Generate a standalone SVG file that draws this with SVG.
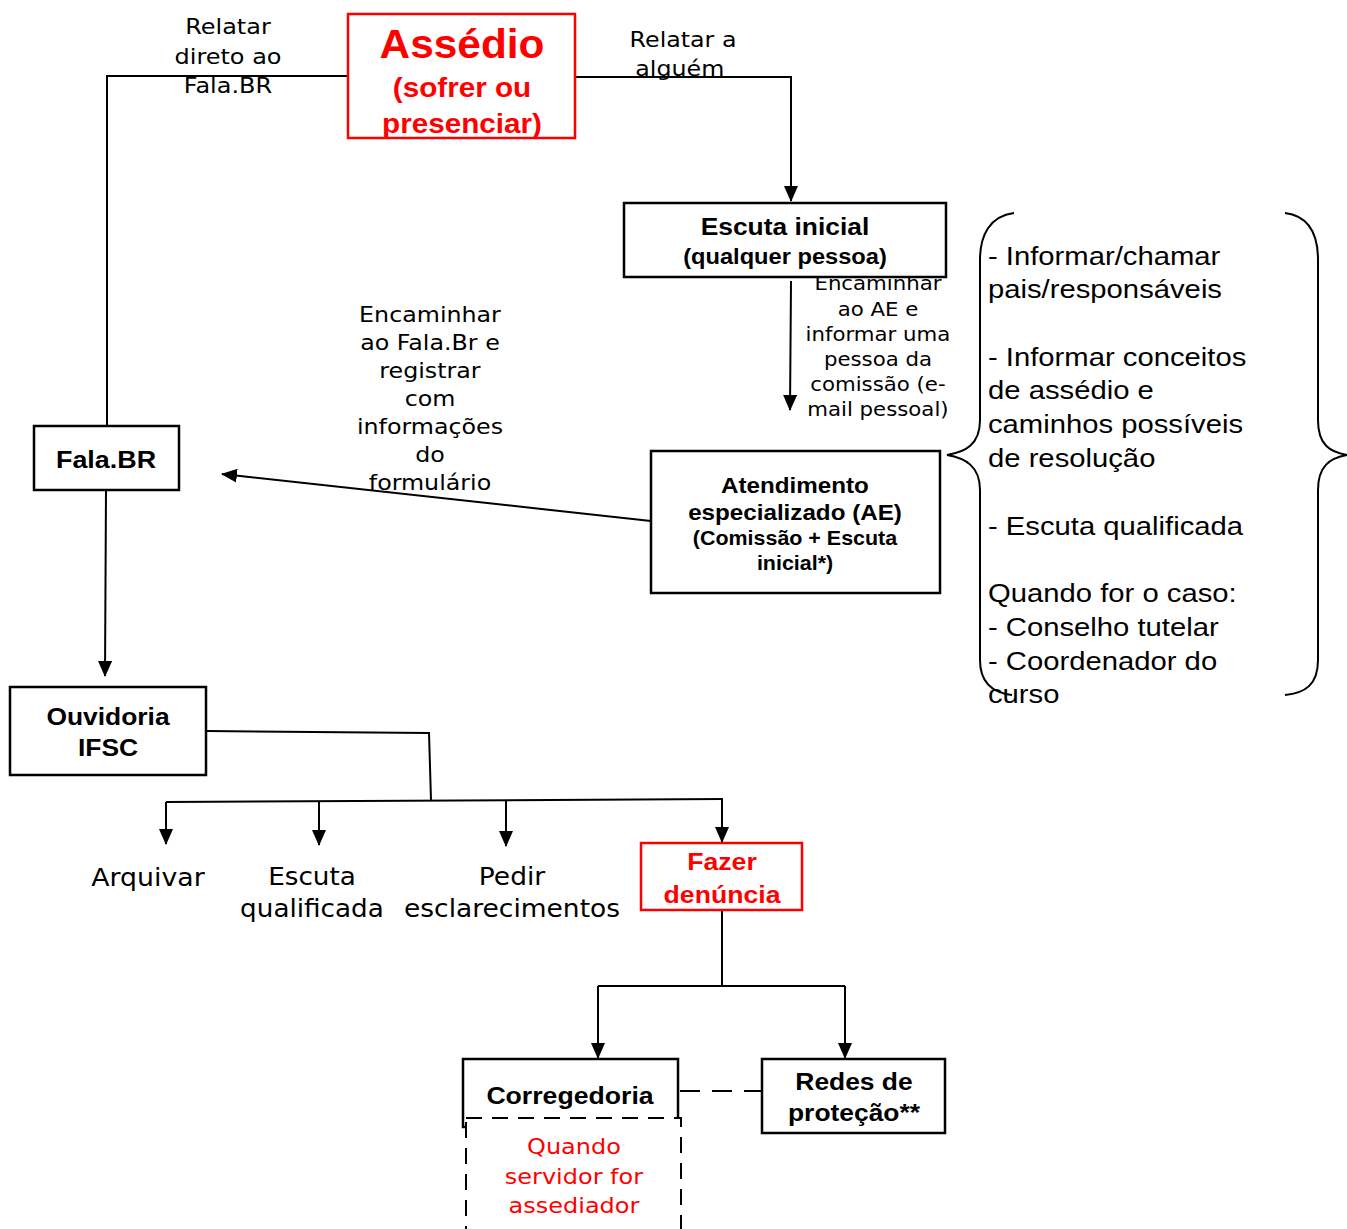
<svg xmlns="http://www.w3.org/2000/svg" width="1347" height="1229" viewBox="0 0 1347 1229">
<defs>
<marker id="ah" markerWidth="16" markerHeight="14" refX="15" refY="7" orient="auto" markerUnits="userSpaceOnUse" viewBox="0 0 16 14"><path d="M0,0 L16,7 L0,14 z" fill="#000"/></marker>
<style>
.box{fill:#fff;stroke:#000;stroke-width:2.5}
.rbox{fill:#fff;stroke:#f00;stroke-width:2.5}
.b{font-family:"Liberation Sans",Arial,sans-serif;font-weight:bold;text-anchor:middle;fill:#000}
.rb{font-family:"Liberation Sans",Arial,sans-serif;font-weight:bold;text-anchor:middle;fill:#f00}
.lbl{font-family:"DejaVu Sans",sans-serif;text-anchor:middle;fill:#000}
.br{font-family:"Liberation Sans",Arial,sans-serif;font-size:26px;fill:#000}
.ln{fill:none;stroke:#000;stroke-width:2}
.arr{fill:none;stroke:#000;stroke-width:2;marker-end:url(#ah)}
</style>
</defs>
<rect width="1347" height="1229" fill="#fff"/>
<g id="connectors">
<polyline class="ln" points="348,76 107,76 107,426"/>
<polyline class="arr" points="575,77 791,77 791,201"/>
<line class="arr" x1="791" y1="281" x2="790" y2="410"/>
<line class="arr" x1="651" y1="521" x2="222" y2="474"/>
<line class="arr" x1="106" y1="490" x2="105" y2="676"/>
<polyline class="ln" points="206,731 429,733 431,800"/>
<line class="ln" x1="166" y1="802" x2="723" y2="799"/>
<line class="arr" x1="166" y1="802" x2="166" y2="844"/>
<line class="arr" x1="319" y1="802" x2="319" y2="845"/>
<line class="arr" x1="506" y1="801" x2="506" y2="846"/>
<line class="arr" x1="722" y1="800" x2="722" y2="842"/>
<line class="ln" x1="722" y1="910" x2="722" y2="986"/>
<line class="ln" x1="598" y1="986" x2="845" y2="986"/>
<line class="arr" x1="598" y1="986" x2="598" y2="1058"/>
<line class="arr" x1="845" y1="986" x2="845" y2="1058"/>
<line class="ln" x1="680" y1="1091" x2="762" y2="1091" stroke-dasharray="20,12"/>
</g>
<g id="labels">
<text class="lbl" font-size="22" transform="matrix(1.09,0,0,1,-20.5,0)"><tspan x="228" y="34">Relatar</tspan><tspan x="228" y="64">direto ao</tspan><tspan x="228" y="93">Fala.BR</tspan></text>
<text class="lbl" font-size="22" transform="matrix(1.08,0,0,1,-54.6,0)"><tspan x="683" y="47">Relatar a</tspan><tspan x="680" y="76">alguém</tspan></text>
<text class="lbl" font-size="19" transform="matrix(1.12,0,0,1,-105.4,0)"><tspan x="878" y="290">Encaminhar</tspan><tspan x="878" y="316">ao AE e</tspan><tspan x="878" y="341">informar uma</tspan><tspan x="878" y="366">pessoa da</tspan><tspan x="878" y="391">comissão (e-</tspan><tspan x="878" y="416">mail pessoal)</tspan></text>
<text class="lbl" font-size="22" transform="matrix(1.08,0,0,1,-34.4,0)"><tspan x="430" y="322">Encaminhar</tspan><tspan x="430" y="350">ao Fala.Br e</tspan><tspan x="430" y="378">registrar</tspan><tspan x="430" y="406">com</tspan><tspan x="430" y="434">informações</tspan><tspan x="430" y="462">do</tspan><tspan x="430" y="490">formulário</tspan></text>
</g>
<g id="assedio">
<rect class="rbox" x="348" y="14" width="227" height="124"/>
<g transform="matrix(1.06,0,0,1,-27.7,0)">
<text class="rb" font-size="40" x="462" y="58">Assédio</text>
<text class="rb" font-size="28"><tspan x="462" y="97">(sofrer ou</tspan><tspan x="462" y="133">presenciar)</tspan></text>
</g>
</g>
<g id="escuta-inicial">
<rect class="box" x="624" y="203" width="322" height="74"/>
<g transform="matrix(1.1,0,0,1,-78.5,0)">
<text class="b" font-size="24" x="785" y="235">Escuta inicial</text>
<text class="b" font-size="21.5" x="785" y="264">(qualquer pessoa)</text>
</g>
</g>
<g id="atendimento">
<rect class="box" x="651" y="451" width="289" height="142" stroke-width="2"/>
<g transform="matrix(1.1,0,0,1,-79.5,0)">
<text class="b" font-size="22"><tspan x="795" y="493">Atendimento</tspan><tspan x="795" y="520">especializado (AE)</tspan></text>
<text class="b" font-size="19.5"><tspan x="795" y="545">(Comissão + Escuta</tspan><tspan x="795" y="570">inicial*)</tspan></text>
</g>
</g>
<g id="fala-br">
<rect class="box" x="34" y="426" width="145" height="64"/>
<text class="b" font-size="24" x="106" y="468" transform="matrix(1.12,0,0,1,-12.7,0)">Fala.BR</text>
</g>
<g id="ouvidoria">
<rect class="box" x="10" y="687" width="196" height="88"/>
<text class="b" font-size="24" transform="matrix(1.1,0,0,1,-10.8,0)"><tspan x="108" y="725">Ouvidoria</tspan><tspan x="108" y="756">IFSC</tspan></text>
</g>
<g id="arquivar"><text class="lbl" font-size="25" x="148" y="886" transform="matrix(1.07,0,0,1,-10.4,0)">Arquivar</text></g>
<g id="escuta-qualificada"><text class="lbl" font-size="25" transform="matrix(1.05,0,0,1,-15.6,0)"><tspan x="312" y="885">Escuta</tspan><tspan x="312" y="917">qualificada</tspan></text></g>
<g id="pedir"><text class="lbl" font-size="25" transform="matrix(1.06,0,0,1,-30.7,0)"><tspan x="512" y="885">Pedir</tspan><tspan x="512" y="917">esclarecimentos</tspan></text></g>
<g id="fazer-denuncia">
<rect class="rbox" x="641" y="843" width="161" height="67"/>
<text class="rb" font-size="24" transform="matrix(1.11,0,0,1,-79.4,0)"><tspan x="722" y="870">Fazer</tspan><tspan x="722" y="903">denúncia</tspan></text>
</g>
<g id="corregedoria">
<rect class="box" x="463" y="1059" width="215" height="68"/>
<text class="b" font-size="24" x="570" y="1104" transform="matrix(1.11,0,0,1,-62.7,0)">Corregedoria</text>
</g>
<g id="quando">
<rect x="466" y="1118" width="215" height="120" fill="#fff" stroke="#000" stroke-width="2" stroke-dasharray="16,10"/>
<text class="lbl" font-size="22" style="fill:#f00" transform="matrix(1.09,0,0,1,-51.7,0)"><tspan x="574" y="1154">Quando</tspan><tspan x="574" y="1184">servidor for</tspan><tspan x="574" y="1213">assediador</tspan></text>
</g>
<g id="redes">
<rect class="box" x="762" y="1059" width="183" height="74"/>
<text class="b" font-size="24" transform="matrix(1.1,0,0,1,-85.4,0)"><tspan x="854" y="1090">Redes de</tspan><tspan x="854" y="1121">proteção**</tspan></text>
</g>
<g id="acoes">
<path class="ln" d="M1014,213 C990,216 980,235 980,260 L980,420 C980,445 965,452 947,455 C965,458 980,466 980,490 L980,660 C980,685 995,693 1012,695"/>
<path class="ln" d="M1285,213 C1309,216 1318,235 1318,260 L1318,420 C1318,445 1330,452 1347,455 C1330,458 1318,466 1318,490 L1318,660 C1318,685 1305,693 1285,695"/>
<text class="br" transform="matrix(1.125,0,0,1,-123.5,0)"><tspan x="988" y="265">- Informar/chamar</tspan><tspan x="988" y="298">pais/responsáveis</tspan><tspan x="988" y="366">- Informar conceitos</tspan><tspan x="988" y="399">de assédio e</tspan><tspan x="988" y="433">caminhos possíveis</tspan><tspan x="988" y="467">de resolução</tspan><tspan x="988" y="535">- Escuta qualificada</tspan><tspan x="988" y="602">Quando for o caso:</tspan><tspan x="988" y="636">- Conselho tutelar</tspan><tspan x="988" y="670">- Coordenador do</tspan><tspan x="988" y="703">curso</tspan></text>
</g>
</svg>
